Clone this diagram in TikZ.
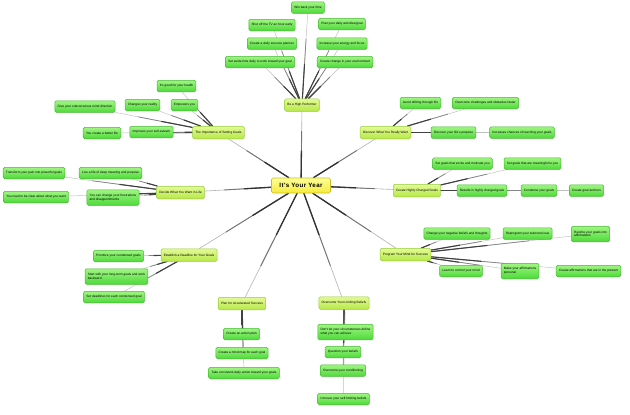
\documentclass[tikz,border=0pt]{standalone}
\usepackage{fontspec}
\setmainfont{Liberation Sans}
\newfontfamily\titlefont[LetterSpace=6]{Liberation Sans}
\usepackage{tikz}
\usetikzlibrary{positioning,calc,backgrounds}

\definecolor{leafTop}{RGB}{160,245,130}
\definecolor{leafBot}{RGB}{78,218,58}
\definecolor{leafLine}{RGB}{70,185,50}
\definecolor{hubTop}{RGB}{228,250,150}
\definecolor{hubBot}{RGB}{182,232,72}
\definecolor{hubLine}{RGB}{150,205,60}
\definecolor{rootTop}{RGB}{255,255,150}
\definecolor{rootBot}{RGB}{245,235,60}
\definecolor{rootLine}{RGB}{205,190,40}

\tikzset{
  leaf/.style={draw=leafLine, line width=.5pt, rounded corners=1.5pt,
    top color=leafTop, bottom color=leafBot,
    font=\fontsize{3.2}{3.7}\selectfont, align=left,
    inner xsep=2.8pt, inner ysep=0pt, minimum height=11.5pt},
  two/.style={minimum height=15.5pt},
  hub/.style={leaf, draw=hubLine, top color=hubTop, bottom color=hubBot,
    minimum height=12.5pt},
  root/.style={draw=rootLine, line width=.6pt, rounded corners=1.5pt,
    top color=rootTop, bottom color=rootBot,
    font={\titlefont\fontsize{6.2}{7}\selectfont\bfseries},
    minimum width=59pt, minimum height=15pt, inner sep=1pt},
  % tapered links: dark near the parent, light near the child
  trunkA/.style={draw=black!80, line width=1.3pt, line cap=round},
  trunkB/.style={draw=black!55, line width=.9pt, line cap=round},
  trunkC/.style={draw=black!30, line width=.6pt, line cap=round},
  twigA/.style={draw=black!75, line width=1.1pt, line cap=round},
  twigB/.style={draw=black!48, line width=.75pt, line cap=round},
  twigC/.style={draw=black!25, line width=.45pt, line cap=round}
}

\begin{document}
\begin{tikzpicture}[x=1pt, y=-1pt]
    \useasboundingbox (0,0) rectangle (630,415);

    \node (year) [root] at (301,185.5) {It's Your Year};

    % Be a High Performer
    \node (perf) [hub] at (302,105) {Be a High Performer};
    \node (winback) [leaf] at (308,7.5) {Win back your time};
    \node (tvoff) [leaf] at (272,25) {Shut off the TV an hour early};
    \node (planner) [leaf] at (272,43.5) {Create a daily success planner};
    \node (aside) [leaf] at (260,62) {Set aside time daily to work toward your goal};
    \node (daygoal) [leaf] at (342,24) {Plan your daily activities/goal};
    \node (energy) [leaf] at (342,43.5) {Increase your energy and focus};
    \node (envir) [leaf] at (345,62) {Create change in your environment};

    % The Importance of Setting Goals
    \node (imp) [hub] at (218.5,132.5) {The Importance of Setting Goals};
    \node (health) [leaf] at (176.5,86) {It's good for your health};
    \node (direct) [leaf] at (85,106.5) {Give your subconscious mind direction};
    \node (reality) [leaf] at (142.5,105) {Changes your reality};
    \node (empower) [leaf] at (184.5,105) {Empowers you};
    \node (better) [leaf] at (102,133) {You create a better life};
    \node (esteem) [leaf] at (151.5,132) {Improves your self-esteem};

    % Discover What You Really Want
    \node (disc) [hub] at (385.5,132.5) {Discover What You Really Want};
    \node (drift) [leaf] at (420.5,103) {Avoid drifting through life};
    \node (obstacle) [leaf] at (485.5,103) {Overcome challenges and obstacles faster};
    \node (purpose) [leaf, right of=disc, node distance=68pt] {Discover your life's purpose};
    \node (chance) [leaf, right of=purpose, node distance=68.5pt] {Increases chances of reaching your goals};

    % Decide What You Want in Life
    \node (decide) [hub] at (180.5,192.5) {Decide What You Want in Life};
    \node (pain) [leaf] at (34,173) {Transform your pain into powerful goals};
    \node (meaning) [leaf] at (110.5,173) {Live a life of deep meaning and purpose};
    \node (frust) [leaf, two] at (113,197.5) {You can change your frustrations\\and disappointments};
    \node (clear) [leaf] at (36,197) {You need to be clear about what you want};

    % Create Highly Charged Goals
    \node (charged) [hub] at (417,190.5) {Create Highly Charged Goals};
    \node (excite) [leaf] at (462.5,163.5) {Set goals that excite and motivate you};
    \node (meanful) [leaf] at (532.5,163.5) {Set goals that are meaningful to you};
    \node (results) [leaf, right of=charged, node distance=65pt] {Results in highly charged goals};
    \node (condense) [leaf, right of=results, node distance=57pt] {Condense your goals};
    \node (anchor) [leaf, right of=condense, node distance=47.5pt] {Create goal anchors};

    % Program Your Mind for Success
    \node (prog) [hub] at (405.5,254.5) {Program Your Mind for Success};
    \node (negative) [leaf] at (457,233.5) {Change your negative beliefs and thoughts};
    \node (reprog) [leaf] at (527.5,233.5) {Reprogram your subconscious};
    \node (rewrite) [leaf, two] at (590.5,234) {Rewrite your goals into\\affirmations};
    \node (control) [leaf] at (461,271) {Learn to control your mind};
    \node (personal) [leaf, two] at (520,271) {Make your affirmations\\personal};
    \node (present) [leaf] at (588.5,271) {Create affirmations that are in the present};

    % Establish a Deadline for Your Goals
    \node (dead) [hub] at (189,255) {Establish a Deadline for Your Goals};
    \node (prior) [leaf] at (118.5,256) {Prioritize your condensed goals};
    \node (backward) [leaf, two] at (116.5,276.5) {Start with your long-term goals and work\\backward};
    \node (eachdl) [leaf] at (114,297) {Set deadlines for each condensed goal};

    % Plan for Accelerated Success
    \node (accel) [hub] at (242,303.5) {Plan for Accelerated Success};
    \node (action) [leaf] at (241.5,334) {Create an action plan};
    \node (mindmap) [leaf] at (242,353) {Create a mind map for each goal};
    \node (daily) [leaf] at (244,373) {Take consistent daily action toward your goals};

    % Overcome Your Limiting Beliefs
    \node (limit) [hub] at (344,303) {Overcome Your Limiting Beliefs};
    \node (circum) [leaf, two] at (345.5,332) {Don't let your circumstances define\\what you can achieve};
    \node (question) [leaf] at (343,352) {Question your beliefs};
    \node (condit) [leaf] at (343,370.5) {Overcome your conditioning};
    \node (uncover) [leaf] at (343.5,399) {Uncover your self-limiting beliefs};

    \begin{scope}[on background layer]
    \fill[white] (0,0) rectangle (630,415);
    \foreach \a/\b in {year/perf, year/imp, year/disc, year/decide, year/charged,
        year/prog, year/dead, year/accel, year/limit} {
        \draw[trunkC] (\a) -- (\b) coordinate[pos=.4] (m1) coordinate[pos=.7] (m2);
        \draw[trunkB] (\a) -- (m2);
        \draw[trunkA] (\a) -- (m1);
    }
    \foreach \a/\b in {perf/winback, perf/tvoff, perf/planner, perf/aside, perf/daygoal,
        perf/energy, perf/envir, imp/health, imp/direct, imp/reality, imp/empower,
        imp/better, imp/esteem, disc/drift, disc/obstacle, disc/purpose, disc/chance,
        decide/pain, decide/meaning, decide/frust, decide/clear, charged/excite,
        charged/meanful, charged/results, charged/condense, charged/anchor,
        prog/negative, prog/reprog, prog/rewrite, prog/control, prog/personal,
        prog/present, dead/prior, dead/backward, dead/eachdl, accel/action,
        accel/mindmap, accel/daily, limit/circum, limit/question, limit/condit,
        limit/uncover} {
        \draw[twigC] (\a) -- (\b) coordinate[pos=.4] (m1) coordinate[pos=.7] (m2);
        \draw[twigB] (\a) -- (m2);
        \draw[twigA] (\a) -- (m1);
    }
    \end{scope}
\end{tikzpicture}
\end{document}
